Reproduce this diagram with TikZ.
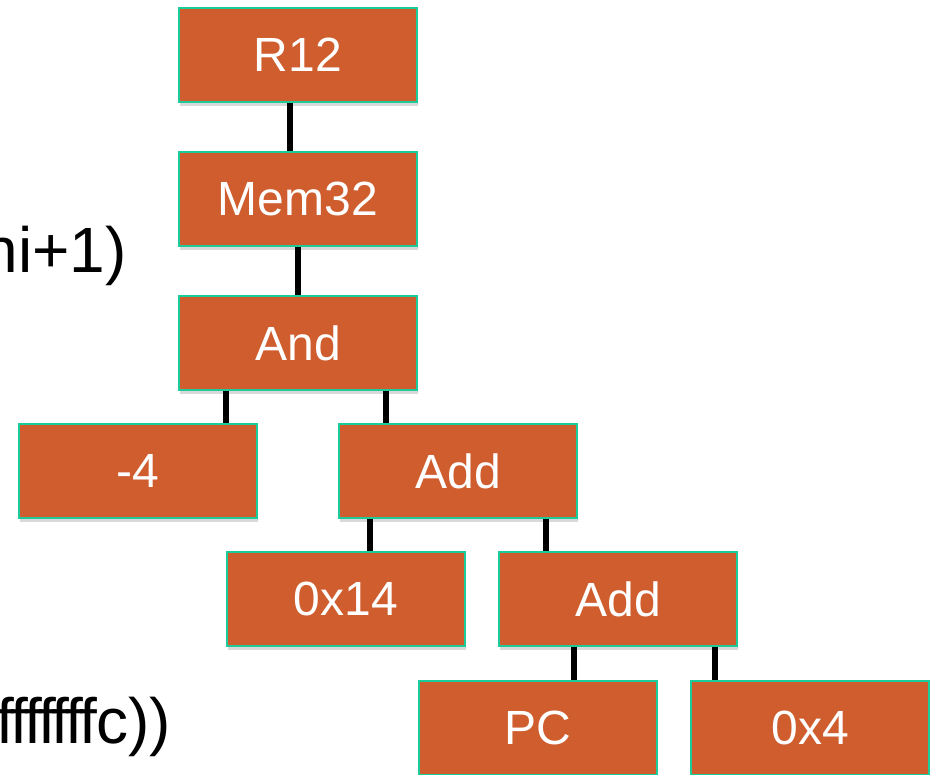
\documentclass[tikz,border=0pt]{standalone}
\usepackage{fontspec}
\setmainfont{Liberation Sans}
\usetikzlibrary{shadows}

\definecolor{boxfill}{HTML}{CF5D2E}
\definecolor{boxline}{HTML}{1BCB9A}

% tight f for the mask constant
\newcommand\tf{f\kern-4pt}

\tikzset{
  tnode/.style={draw=boxline, line width=2.5pt, fill=boxfill, text=white,
    minimum width=238pt, minimum height=94pt, inner sep=0pt,
    font=\fontsize{48}{58}\selectfont,
    drop shadow={shadow xshift=1pt, shadow yshift=-4pt, opacity=.15, fill=black}},
  link/.style={line width=6pt},
  expr/.style={font=\fontsize{64}{76}\selectfont, anchor=base east, inner sep=0pt}
}

\begin{document}
\begin{tikzpicture}[x=1pt,y=-1pt]
    \useasboundingbox (0,0) rectangle (934,774);
    \clip (0,0) rectangle (934,774);
    % expression text on the left
    \node[expr] (hi) at (127,272) {ni+1)};
    \node[expr] (mask) at (171,743) {\tf\tf\tf\tf\tf\tf\tf f\kern-1pt c))};
    % FIRST LEVEL
    \node[tnode] (r12) at (298,55) {R12};
    \node[tnode] (mem) at (298,199) {Mem32};
    \node[tnode] (and) at (298,343) {And};
    % SECOND LEVEL
    \node[tnode] (m4) at (138,471) {-4};
    \node[tnode] (add) at (458,471) {Add};
    % THIRD LEVEL
    \node[tnode] (c14) at (346,599) {0x14};
    \node[tnode] (addpc) at (618,599) {Add};
    % FOURTH LEVEL
    \node[tnode] (pc) at (538,728) {PC};
    \node[tnode] (c4) at (810,728) {0x4};
    % edges
    \draw[link] ([xshift=-8pt]r12.south) -- ([xshift=-8pt]r12.south |- mem.north);
    \draw[link] (mem.south) -- (and.north);
    \draw[link] ([xshift=-72pt]and.south) -- ([xshift=-72pt]and.south |- m4.north);
    \draw[link] ([xshift=88pt]and.south) -- ([xshift=88pt]and.south |- add.north);
    \draw[link] ([xshift=-88pt]add.south) -- ([xshift=-88pt]add.south |- c14.north);
    \draw[link] ([xshift=88pt]add.south) -- ([xshift=88pt]add.south |- addpc.north);
    \draw[link] ([xshift=-44pt]addpc.south) -- ([xshift=-44pt]addpc.south |- pc.north);
    \draw[link] ([xshift=97pt]addpc.south) -- ([xshift=97pt]addpc.south |- c4.north);
\end{tikzpicture}
\end{document}
